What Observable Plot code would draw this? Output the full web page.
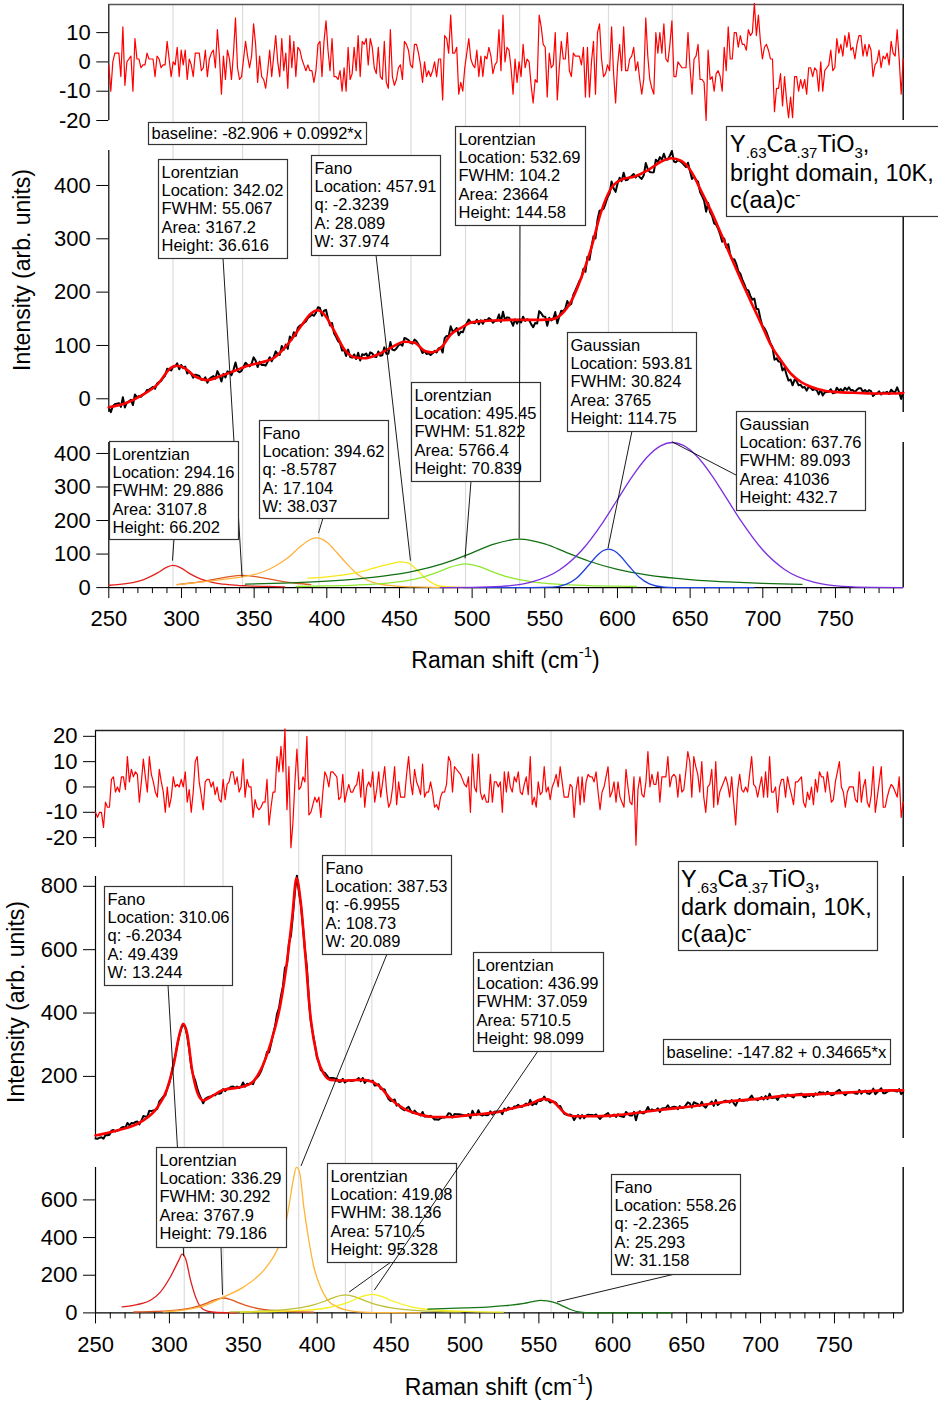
<!DOCTYPE html>
<html>
<head>
<meta charset="utf-8">
<script src="https://cdn.jsdelivr.net/npm/d3@7"></script>
<script src="https://cdn.jsdelivr.net/npm/@observablehq/plot@0.6"></script>
<style>
html,body{margin:0;padding:0;background:#fff;}
#root{position:relative;width:938px;height:1401px;overflow:hidden;background:#fff;}
</style>
</head>
<body>
<div id="root"></div>
<script>
// ================= DATA =================
const xRangeTop = [250, 796.6];
const xRangeBot = [250, 796.5];
const xMajor = [250, 300, 350, 400, 450, 500, 550, 600, 650, 700, 750];
const xMinor = [260,270,280,290,310,320,330,340,360,370,380,390,410,420,430,440,460,470,480,490,510,520,530,540,560,570,580,590,610,620,630,640,660,670,680,690,710,720,730,740,760,770,780,790];

const resTopTicks = [-20, -10, 0, 10];
const midTopTicks = [0, 100, 200, 300, 400];
const cmpTopTicks = [0, 100, 200, 300, 400];
const resBotTicks = [-20, -10, 0, 10, 20];
const midBotTicks = [200, 400, 600, 800];
const cmpBotTicks = [0, 200, 400, 600];

const locTop = [294.16, 342.02, 394.62, 457.91, 495.45, 532.69, 593.81, 637.76];
const locBot = [310.06, 336.29, 387.53, 419.08, 436.99, 558.26];

// residuals (evenly sampled across the x range)
const residTop = [-1,-10,0,3,3,3,-5,12,-8,0,1,2,-10,8,1,1,-2,-1,-1,3,1,1,1,-5,2,1,-2,-1,-1,7,1,-5,0,-1,5,-5,4,-1,4,-6,1,-1,-5,3,3,3,-3,-2,4,-5,1,3,4,-2,11,2,-11,2,-6,4,1,-6,3,15,-2,-6,-5,1,7,2,-2,2,13,6,-7,2,-5,-6,-9,-3,4,-5,2,9,0,-5,8,-3,3,-9,9,-2,7,-5,5,4,1,-1,-3,-1,-3,-3,-7,-3,6,7,-5,7,14,4,-3,8,-5,-5,-6,-3,-10,-2,-10,5,-6,-4,5,-3,9,-5,7,6,8,-1,8,5,-2,-4,5,-5,-6,7,-7,-9,11,-5,-8,-6,-2,-1,-6,7,6,4,-1,-2,6,6,3,-1,-7,0,-5,-3,-5,-3,0,-5,1,1,-13,9,8,3,16,3,3,5,-11,-7,-10,-2,3,8,1,-1,-2,4,-5,2,-5,2,1,5,2,-4,-1,0,11,-3,16,0,5,
4,-2,-11,1,-7,0,-5,6,-2,1,0,-8,-14,-6,-7,16,12,6,5,-12,3,-2,-1,10,-13,-2,7,1,1,10,-3,-5,3,2,2,2,-1,5,-12,5,-12,0,7,-11,10,13,1,-5,-4,-1,-3,12,-4,-14,-1,6,-3,12,-3,-3,1,2,5,-3,0,-6,-11,-6,15,2,-6,-9,-11,10,3,10,3,13,1,0,6,14,-5,-5,0,-1,-2,-2,-2,10,-2,-11,1,2,6,-6,-6,-7,-20,4,-6,-5,-10,-4,-3,-5,-10,5,-3,12,1,1,10,10,5,9,6,6,4,11,9,10,20,9,16,7,1,5,6,4,1,1,-17,-9,-9,-4,-15,-5,-13,-19,-12,-19,-5,-5,-10,-6,-9,-6,-11,-2,-2,-5,-2,-3,-10,0,-10,-3,-2,-1,4,-3,-2,8,3,6,2,9,5,10,4,5,1,6,9,9,2,6,2,6,4,-5,-1,0,4,-2,2,1,3,-1,7,3,2,11,1,-11,1];

const residBot = [-10,-12,-10,-10,-16,-6,-8,-8,3,4,-2,0,-2,4,4,-1,12,2,7,4,6,5,-6,2,11,4,-2,12,5,2,-2,-4,7,2,-2,-10,0,-8,-4,4,0,1,0,3,0,6,-6,-1,-10,-2,10,12,2,-3,-9,2,3,3,0,2,-3,0,-5,-6,3,-5,1,2,6,6,1,4,-2,0,11,-4,3,0,0,-12,-5,-8,-9,-8,-6,-6,3,-15,-8,-2,-2,12,6,16,6,23,-9,8,-24,-14,2,15,-1,0,4,2,20,-11,-10,-7,-4,-6,-4,-12,-2,6,4,0,6,6,5,4,-5,-4,5,-6,-2,1,-2,-2,0,1,6,-4,7,-8,0,2,0,6,-6,-1,6,-4,2,8,-2,-8,-6,0,8,-7,2,-4,-4,-4,5,12,2,-3,7,2,0,-3,9,-4,-2,-2,2,-2,-8,-7,-9,-4,-2,-2,1,12,10,-2,8,7,6,5,3,1,0,4,-10,13,0,-2,13,-2,-5,-3,-6,-6,5,-6,2,2,0,
2,-10,6,-2,6,0,-2,4,2,6,-2,-3,1,4,-3,12,-7,-4,-8,2,-3,-2,8,-2,0,-5,0,2,5,0,8,2,-4,-4,-4,1,0,-12,-1,4,-7,4,-6,2,5,4,4,2,6,-2,-9,-2,0,4,8,-4,-2,2,-6,2,-4,-6,-8,7,0,-6,-7,4,-23,-1,4,-3,-4,2,14,0,5,1,1,6,-6,4,4,4,12,0,4,5,4,-4,5,-2,-1,6,14,10,-4,12,8,5,-2,10,-4,-10,0,1,7,-8,10,-7,-2,0,2,4,1,-4,4,-6,-15,-1,5,-1,-2,0,-2,5,12,1,0,-4,0,4,-4,6,-4,12,-2,-2,0,-10,0,3,3,-4,4,0,-3,-7,2,2,3,4,-6,-8,-2,-5,0,-7,3,-2,6,4,4,-2,6,0,-6,-5,2,6,10,0,-2,-8,-2,0,0,0,-5,-6,6,-6,0,3,-6,-8,-3,8,-10,-4,2,8,-8,-8,-4,-1,1,0,-2,-4,4,-12,-6];

// total fit curves
const fitTopX = [250,262.8,272,283.5,292.7,296.1,301.9,308.8,317.9,327.1,336.3,345.5,354.7,363.8,373,382.2,389.1,393.7,398.3,405.2,412,418.9,425.8,435,444.2,453.4,460.3,467.1,471.8,478.7,485.5,492.4,499.3,508.5,517.7,526.9,540.6,554.4,561.3,568.2,575.1,582,588.8,595.7,602.6,611.8,621,630.2,637.1,644,650.8,657.7,664.6,671.5,678.4,685.3,692.1,699,705.9,712.8,719.7,726.6,733.5,742.6,754.1,765.6,777,788.6,796.6];
const fitTopY = [-16,-7,5.6,27,58,62,58,43,35,43,52,62,68,77,102,136,160,166,158,127,93,78,76,83,96,107,105,90,87,96,121,133,143,146,147,148,148,149,158,183,227,283,351,395,411,417,429,445,451,446,426,389,351,308,264,221,180,140,99,71,46,31,22,15,12,11,10,10,11];
const fitBotX = [250,264.7,280.4,291.7,298.5,303,306.4,309.3,312,315.4,318.8,322.9,327.8,336.8,345.9,354.9,361.6,368.4,375.2,379.7,383.1,386,388.7,392.1,395.5,400,404.5,409,418,429.3,436.1,442.8,449.6,458.6,467.6,478.9,490.2,501.5,512.7,524,530.8,544.3,553.3,560.1,566.8,573.6,589.4,607.4,630,652.5,675.1,697.7,720.2,742.7,765.3,787.9,796.5];
const fitBotY = [13.7,29.5,55.8,101,161,240,324,366,335,219,150.5,124,135,158,164,177,219,303,429,566,703,826,756,577,387,261,208,189,187,189,185,166,129,98,82,72,72,77,82,89,98,114,129,119,87,74,74,80,93,105,119,129,140,145,151,156,156];

// top panel components
const L294x = [250,263,274,283.5,290,294.16,299.5,306,313,322,332,345,358,371];
const L294y = [7,12.5,24,44,61,66.2,59,41,26,15,9,5.3,3.6,2.4];
const L342x = [297,305,315,325,333,342.02,351,359,369,379,389];
const L342y = [9,13,18.7,26.5,33,36.6,33,26.5,18.7,13,9];
const F394x = [297,310,322,333,343,355,364,373,382,388,392.5,397,400.5,407,414,421,428,437,446,460,474,492];
const F394y = [9,15,21,27,33,45,63,88,123,142,148,144,134,104,70,40,22,10,5,2,0.5,0];
const F457x = [387,400.6,418.9,437.3,445,450,455.7,462.6,469.5,478.7,491,505,528];
const F457y = [28,32,43,64,72,77,74,50,22,4,0.5,0,0];
const L495x = [379,400,420,440,455,465,475,485,495.45,505,515,525,540,560,580,600,613];
const L495y = [3.3,4.9,7.5,12.7,20.6,29.7,43.6,60.9,70.8,62.5,45.2,30.9,18,9.8,6.1,4.1,3.3];
const L532x = [344,370,400,420,440,460,480,500,515,532.69,550,565,580,600,620,650,680,700,727];
const L532y = [10.2,13.4,19.3,25.5,34.7,49,71.5,103.7,129.7,144.6,130.2,104.5,79.3,54.2,38,23.8,16.1,12.8,9.7];
const G593x = [494,540,555,565,572,580,586,590,593.81,598,602,608,615,622,632,645,694];
const G593y = [0,0,1.4,10.2,28.7,65.8,96,110,114.75,109,94.3,63.7,30.9,11.3,1.6,0,0];
const G637x = [478,500,520,540,560,575,590,600,610,620,630,637.76,645,655,665,675,685,700,715,735,755,775,796.6];
const G637y = [0.1,0.6,3.4,15.3,52.3,109.2,194.8,262.7,330.3,387.4,423.6,432.7,424.9,390.2,334.2,266.9,198.7,112,54,16,3.6,0.6,0.1];

// bottom panel components
const F310x = [268,278.2,287.2,294,300.7,306.4,308.6,310.9,314.3,317.7,321,325.6,332.3,346];
const F310y = [32,44,67,112,192,280,312,289,174,85,32,9,2,0];
const L336x = [276,290,305,315,325,331,336.29,341,347,355,365,380,397.5];
const L336y = [4.7,7.7,15,26.6,50.9,70.6,79.2,72.3,52.8,31.4,17.3,8.5,4.6];
const F387x = [296,321,336.8,350.3,363.9,372.9,377.4,380.8,383.8,386,388.2,390.9,394.3,397.7,402.2,406.8,413.5,422.5,433.8,450,470];
const F387y = [5,32,85,138,227,334,422,564,706,774,742,564,387,245,138,71,32,11,3,1,0];
const L419x = [341,360,380,395,405,412,419.08,426,433,440,455,475,497];
const L419y = [5.4,9,18.4,36.9,61.9,83.7,95.3,84.3,62.2,43.3,20.9,9.9,5.4];
const L437x = [348,370,390,405,420,430,436.99,444,450,465,485,505,526];
const L437y = [4.3,7,13.2,24.6,53.3,85.8,98.1,85.8,65.8,29.9,12.7,6.8,4.2];
const F558x = [475,500,517,524,531,540,546,551,555.6,562.3,567,571.4,578,585,600,640];
const F558y = [19.5,27,32,37,41,50,60,67,64,50,33,18,4,0,0,0];

// annotation texts
const annTopText = [
  ["baseline: -82.906 + 0.0992*x"],
  ["Lorentzian","Location: 342.02","FWHM: 55.067","Area: 3167.2","Height: 36.616"],
  ["Fano","Location: 457.91","q: -2.3239","A: 28.089","W: 37.974"],
  ["Lorentzian","Location: 495.45","FWHM: 51.822","Area: 5766.4","Height: 70.839"],
  ["Lorentzian","Location: 532.69","FWHM: 104.2","Area: 23664","Height: 144.58"],
  ["Gaussian","Location: 593.81","FWHM: 30.824","Area: 3765","Height: 114.75"],
  ["Fano","Location: 394.62","q: -8.5787","A: 17.104","W: 38.037"],
  ["Lorentzian","Location: 294.16","FWHM: 29.886","Area: 3107.8","Height: 66.202"],
  ["Gaussian","Location: 637.76","FWHM: 89.093","Area: 41036","Height: 432.7"]
];
const annTopTarget = [null,[342.02,30],[457.91,78],[495.45,85],[532.69,144.58],[593.81,114.75],[394.62,160],[294.16,78],[637.76,432.7]];
const annBotText = [
  ["baseline: -147.82 + 0.34665*x"],
  ["Fano","Location: 310.06","q: -6.2034","A: 49.439","W: 13.244"],
  ["Lorentzian","Location: 336.29","FWHM: 30.292","Area: 3767.9","Height: 79.186"],
  ["Fano","Location: 387.53","q: -6.9955","A: 108.73","W: 20.089"],
  ["Lorentzian","Location: 419.08","FWHM: 38.136","Area: 5710.5","Height: 95.328"],
  ["Lorentzian","Location: 436.99","FWHM: 37.059","Area: 5710.5","Height: 98.099"],
  ["Fano","Location: 558.26","q: -2.2365","A: 25.293","W: 31.158"]
];
const annBotTarget = [null,[310.06,300],[336.29,95],[389.4,779],[422,110],[439,120],[562.6,57]];

// ================= LAYOUT / STYLE =================
const FONT = "'Liberation Sans', Arial, Helvetica, sans-serif";
const topColors = ["#e3211c","#dd5a22","#ffb13b","#f5e916","#8fe830","#127012","#1d3fe0","#7a2fdc"];
const botColors = ["#e01c1c","#e0561e","#ffb434","#bfbf34","#f6f01e","#157515"];
const annTopLayout = [
  {box:[148,122,218,22]},
  {box:[158,159,129,99], from:[223,258]},
  {box:[311,155,129,100], from:[376,255]},
  {box:[411,382,129,99], from:[471,481]},
  {box:[455,126,130,99], from:[520,225]},
  {box:[567,332,129,99], from:[632,431]},
  {box:[259,420,129,98], from:[323,518]},
  {box:[109,441,129,98], from:[174,539]},
  {box:[736,411,129,99], from:[736,475]}
];
const annBotLayout = [
  {box:[663,1039,227,25]},
  {box:[104,886,128,99], from:[168,985]},
  {box:[156,1147,130,100], from:[221,1247]},
  {box:[322,855,129,99], from:[387,954]},
  {box:[327,1163,129,99], from:[391,1262]},
  {box:[473,952,130,99], from:[538,1051]},
  {box:[611,1174,129,100], from:[675,1274]}
];

const root = document.getElementById("root");
const pairs = (xs, ys) => xs.map((x, i) => [x, ys[i]]);
const grid = (n, dom) => d3.range(n).map(i => dom[0] + i * (dom[1] - dom[0]) / (n - 1));
function lerp(xs, ys, x) {
  const i = d3.bisectRight(xs, x);
  if (i <= 0) return ys[0];
  if (i >= xs.length) return ys[ys.length - 1];
  const t = (x - xs[i - 1]) / (xs[i] - xs[i - 1]);
  return ys[i - 1] + t * (ys[i] - ys[i - 1]);
}
function place(el, top) {
  el.style.position = "absolute"; el.style.left = "0px"; el.style.top = top + "px";
  root.appendChild(el);
}
const MR = 938 - 902.7;

function backdrop(top, bottom, mL, xDom, locs) {
  const c = Plot.plot({
    width: 938, height: bottom - top, marginLeft: mL, marginRight: MR, marginTop: 0, marginBottom: 0,
    x: {domain: xDom, axis: null},
    style: {background: "transparent"},
    marks: [Plot.ruleX(locs, {stroke: "#dcdcdc", strokeWidth: 1.2})]
  });
  place(c, top);
}

function subplot(cfg) {
  const mt = 2, mb = cfg.xAxis ? 72 : 2;
  const H = cfg.bottom - cfg.top;
  const marks = [];
  marks.push(Plot.ruleX([cfg.xDom[0]], {stroke: "#000", strokeWidth: 1.2}));
  marks.push(Plot.ruleX([cfg.xDom[1]], {stroke: "#000", strokeWidth: 1.4}));
  if (cfg.topLine) marks.push(Plot.ruleY([cfg.yDom[1]], {stroke: cfg.topLine, strokeWidth: 1.3}));
  marks.push(Plot.axisY({ticks: cfg.yTicks, tickSize: 12, tickPadding: 6, tickFormat: d => String(d), label: null, fontSize: 22}));
  if (cfg.xAxis) {
    marks.push(Plot.ruleY([cfg.yDom[0]], {stroke: "#000", strokeWidth: 1.2}));
    marks.push(Plot.axisX({ticks: xMinor, tickSize: 6, tickFormat: () => "", label: null}));
    marks.push(Plot.axisX({ticks: xMajor, tickSize: 11, tickPadding: 12, tickFormat: d => String(d), label: null, fontSize: 22}));
  }
  marks.push(...cfg.marks);
  const chart = Plot.plot({
    width: 938, height: H + mt + mb,
    marginLeft: cfg.mL, marginRight: MR, marginTop: mt, marginBottom: mb,
    x: cfg.xAxis ? {domain: cfg.xDom} : {domain: cfg.xDom, axis: null},
    y: {domain: cfg.yDom},
    style: {background: "transparent", fontFamily: FONT, fontSize: "22px", color: "#000", overflow: "visible"},
    marks
  });
  place(chart, cfg.top - mt);
  return {chart, off: cfg.top - mt};
}

// ---------- TOP PANEL ----------
backdrop(4, 586.8, 108.3, xRangeTop, locTop);
const resTopX = grid(residTop.length, xRangeTop);
const dataTop = resTopX.map((x, i) => [x, lerp(fitTopX, fitTopY, x) + residTop[i]]);

subplot({top: 4, bottom: 120, mL: 108.3, xDom: xRangeTop, yDom: [-20, 19.6], yTicks: resTopTicks, topLine: "#555",
  marks: [Plot.line(pairs(resTopX, residTop), {stroke: "#ff0000", strokeWidth: 1.2})]});
subplot({top: 150, bottom: 412, mL: 108.3, xDom: xRangeTop, yDom: [-25.7, 465.6], yTicks: midTopTicks,
  marks: [
    Plot.line(dataTop, {stroke: "#000", strokeWidth: 2}),
    Plot.line(pairs(fitTopX, fitTopY), {stroke: "#ff0000", strokeWidth: 2.6, curve: "monotone-x"})
  ]});
const topComps = [[L294x,L294y],[L342x,L342y],[F394x,F394y],[F457x,F457y],[L495x,L495y],[L532x,L532y],[G593x,G593y],[G637x,G637y]];
const cmpTop = subplot({top: 441.7, bottom: 586.8, mL: 108.3, xDom: xRangeTop, yDom: [0, 432.7], yTicks: cmpTopTicks, xAxis: true,
  marks: topComps.map((c, i) => Plot.line(pairs(c[0], c[1]), {stroke: topColors[i], strokeWidth: 1.3, curve: "monotone-x"}))});

// ---------- BOTTOM PANEL ----------
backdrop(729.7, 1312.7, 95, xRangeBot, locBot);
const resBotX = grid(residBot.length, xRangeBot);
const dataBot = resBotX.map((x, i) => [x, lerp(fitBotX, fitBotY, x) + residBot[i]]);

subplot({top: 729.7, bottom: 846.7, mL: 95, xDom: xRangeBot, yDom: [-23.9, 22.3], yTicks: resBotTicks, topLine: "#222",
  marks: [Plot.line(pairs(resBotX, residBot), {stroke: "#ff0000", strokeWidth: 1.2})]});
subplot({top: 876, bottom: 1138, mL: 95, xDom: xRangeBot, yDom: [4, 831], yTicks: midBotTicks,
  marks: [
    Plot.line(dataBot, {stroke: "#000", strokeWidth: 2}),
    Plot.line(pairs(fitBotX, fitBotY), {stroke: "#ff0000", strokeWidth: 2.6, curve: "monotone-x"})
  ]});
const botComps = [[F310x,F310y],[L336x,L336y],[F387x,F387y],[L419x,L419y],[L437x,L437y],[F558x,F558y]];
const cmpBot = subplot({top: 1167.3, bottom: 1312.7, mL: 95, xDom: xRangeBot, yDom: [0, 772], yTicks: cmpBotTicks, xAxis: true,
  marks: botComps.map((c, i) => Plot.line(pairs(c[0], c[1]), {stroke: botColors[i], strokeWidth: 1.3, curve: "monotone-x"}))});

// ---------- OVERLAY (annotations, labels) ----------
const ov = d3.create("svg").attr("width", 938).attr("height", 1401).attr("font-family", FONT);
place(ov.node(), 0);

function drawAnn(texts, layout, targets, cmp) {
  texts.forEach((lines, i) => {
    const L = layout[i], t = targets[i];
    if (t && L.from) {
      const tx = cmp.chart.scale("x").apply(t[0]);
      const ty = cmp.chart.scale("y").apply(t[1]) + cmp.off;
      ov.append("line").attr("x1", L.from[0]).attr("y1", L.from[1]).attr("x2", tx).attr("y2", ty)
        .attr("stroke", "#000").attr("stroke-width", 0.9);
    }
    const [bx, by, bw, bh] = L.box;
    ov.append("rect").attr("x", bx + 0.5).attr("y", by + 0.5).attr("width", bw).attr("height", bh)
      .attr("fill", "#fff").attr("stroke", "#333").attr("stroke-width", 1.2);
    const g = ov.append("text").attr("font-size", 16.5).attr("fill", "#000");
    lines.forEach((s, k) => {
      g.append("tspan").attr("x", bx + 3.5).attr("y", by + (lines.length === 1 ? (bh > 23 ? 18.5 : 17) : 18.5) + k * 18.4).text(s);
    });
  });
}
drawAnn(annTopText, annTopLayout, annTopTarget, cmpTop);
drawAnn(annBotText, annBotLayout, annBotTarget, cmpBot);

function titleBox(box, tx, baselines, line2) {
  ov.append("rect").attr("x", box[0] + 0.5).attr("y", box[1] + 0.5).attr("width", box[2]).attr("height", box[3])
    .attr("fill", "#fff").attr("stroke", "#333").attr("stroke-width", 1.2);
  const t1 = ov.append("text").attr("x", tx).attr("y", baselines[0]).attr("font-size", 23.5);
  t1.append("tspan").text("Y");
  t1.append("tspan").attr("font-size", 15).attr("dy", 6).text(".63");
  t1.append("tspan").attr("dy", -6).text("Ca");
  t1.append("tspan").attr("font-size", 15).attr("dy", 6).text(".37");
  t1.append("tspan").attr("dy", -6).text("TiO");
  t1.append("tspan").attr("font-size", 15).attr("dy", 6).text("3");
  t1.append("tspan").attr("dy", -6).text(",");
  ov.append("text").attr("x", tx).attr("y", baselines[1]).attr("font-size", 23.5).text(line2);
  const t3 = ov.append("text").attr("x", tx).attr("y", baselines[2]).attr("font-size", 23.5);
  t3.append("tspan").text("c(aa)c");
  t3.append("tspan").attr("font-size", 16).attr("dy", -8).text("-");
}
titleBox([726, 126, 230, 90], 730, [152, 181, 208], "bright domain, 10K,");
titleBox([678, 861, 199, 89], 681, [887, 915, 942], "dark domain, 10K,");

function xLabel(cx, y) {
  const t = ov.append("text").attr("x", cx).attr("y", y).attr("font-size", 23).attr("text-anchor", "middle");
  t.append("tspan").text("Raman shift (cm");
  t.append("tspan").attr("font-size", 15).attr("dy", -11).text("-1");
  t.append("tspan").attr("dy", 11).text(")");
}
xLabel(505.5, 668);
xLabel(499, 1395);
function yLabel(x, cy) {
  ov.append("text").attr("transform", `translate(${x},${cy}) rotate(-90)`).attr("font-size", 23)
    .attr("text-anchor", "middle").text("Intensity (arb. units)");
}
yLabel(30, 270);
yLabel(24, 1002);
</script>
</body>
</html>
